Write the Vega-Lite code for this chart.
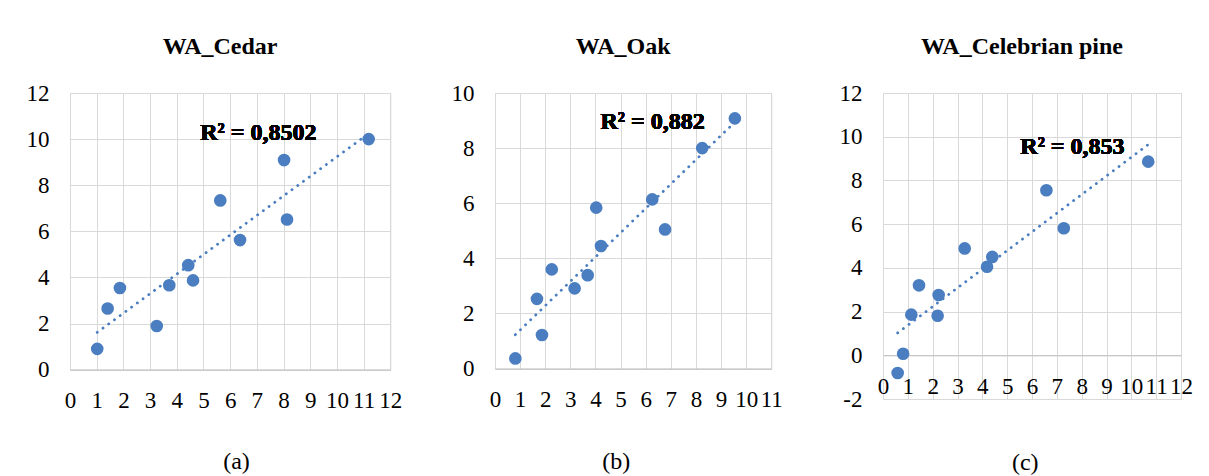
{
  "$schema": "https://vega.github.io/schema/vega-lite/v6.json",
  "background": "white",
  "padding": {"left": 25, "top": 34, "right": 5, "bottom": 5},
  "datasets": {
    "cedar": [
      {"x": 1.02, "y": 0.90}, {"x": 1.41, "y": 2.65}, {"x": 1.87, "y": 3.54}, {"x": 3.25, "y": 1.89},
      {"x": 3.72, "y": 3.66}, {"x": 4.43, "y": 4.53}, {"x": 4.61, "y": 3.87}, {"x": 5.63, "y": 7.34},
      {"x": 6.37, "y": 5.62}, {"x": 8.02, "y": 9.09}, {"x": 8.13, "y": 6.51}, {"x": 11.19, "y": 10.0}
    ],
    "oak": [
      {"x": 0.81, "y": 0.37}, {"x": 1.67, "y": 2.53}, {"x": 1.87, "y": 1.22}, {"x": 2.26, "y": 3.60},
      {"x": 3.17, "y": 2.91}, {"x": 3.69, "y": 3.39}, {"x": 4.03, "y": 5.84}, {"x": 4.22, "y": 4.45},
      {"x": 6.26, "y": 6.14}, {"x": 6.77, "y": 5.05}, {"x": 8.25, "y": 8.00}, {"x": 9.55, "y": 9.08}
    ],
    "pine": [
      {"x": 0.59, "y": -0.81}, {"x": 0.81, "y": 0.07}, {"x": 1.14, "y": 1.86}, {"x": 1.45, "y": 3.20},
      {"x": 2.20, "y": 1.81}, {"x": 2.24, "y": 2.76}, {"x": 3.29, "y": 4.89}, {"x": 4.19, "y": 4.05},
      {"x": 4.40, "y": 4.50}, {"x": 6.58, "y": 7.55}, {"x": 7.28, "y": 5.81}, {"x": 10.68, "y": 8.86}
    ]
  },
  "bounds": "flush",
  "spacing": 0,
  "hconcat": [
    {
      "width": 320.3,
      "height": 276.6,
      "title": {"text": "WA_Cedar"},
      "data": {"name": "cedar"},
      "layer": [
        {
          "mark": {"type": "circle", "size": 160, "color": "#4A7EC0", "opacity": 1},
          "encoding": {
            "x": {"field": "x", "type": "quantitative", "scale": {"domain": [0, 12], "nice": false, "zero": false},
                  "axis": {"values": [0,1,2,3,4,5,6,7,8,9,10,11,12], "title": "(a)", "titleX": 166, "titleY": 98.7, "titleAlign": "center", "titleBaseline": "alphabetic"}},
            "y": {"field": "y", "type": "quantitative", "scale": {"domain": [0, 12], "nice": false, "zero": false},
                  "axis": {"values": [0,2,4,6,8,10,12], "title": null}}
          }
        },
        {
          "transform": [{"regression": "y", "on": "x"}],
          "mark": {"type": "line", "color": "#4A7EC0", "strokeWidth": 2.8, "strokeCap": "round", "strokeDash": [0.1, 7]},
          "encoding": {
            "x": {"field": "x", "type": "quantitative",
                  "axis": {"values": [0,1,2,3,4,5,6,7,8,9,10,11,12], "title": "(a)", "titleX": 166, "titleY": 98.7, "titleAlign": "center", "titleBaseline": "alphabetic"}},
            "y": {"field": "y", "type": "quantitative",
                  "axis": {"values": [0,2,4,6,8,10,12], "title": null}}
          }
        },
        {
          "mark": {"type": "text", "align": "left", "baseline": "alphabetic", "font": "Liberation Serif", "fontSize": 24, "fontWeight": "bold", "color": "#000"},
          "encoding": {
            "x": {"datum": 4.88, "type": "quantitative",
                  "axis": {"values": [0,1,2,3,4,5,6,7,8,9,10,11,12], "title": "(a)", "titleX": 166, "titleY": 98.7, "titleAlign": "center", "titleBaseline": "alphabetic"}},
            "y": {"datum": 9.97, "type": "quantitative",
                  "axis": {"values": [0,2,4,6,8,10,12], "title": null}},
            "text": {"value": "R² = 0,8502"}
          }
        }
      ]
    },
    {
      "width": 103.4,
      "height": 1,
      "view": {"stroke": null},
      "data": {"values": []},
      "mark": {"type": "point", "opacity": 0},
      "encoding": {}
    },
    {
      "width": 276.3,
      "height": 275.6,
      "title": {"text": "WA_Oak"},
      "data": {"name": "oak"},
      "layer": [
        {
          "mark": {"type": "circle", "size": 160, "color": "#4A7EC0", "opacity": 1},
          "encoding": {
            "x": {"field": "x", "type": "quantitative", "scale": {"domain": [0, 11], "nice": false, "zero": false},
                  "axis": {"values": [0,1,2,3,4,5,6,7,8,9,10,11], "title": "(b)", "titleX": 120.8, "titleY": 100, "titleAlign": "center", "titleBaseline": "alphabetic"}},
            "y": {"field": "y", "type": "quantitative", "scale": {"domain": [0, 10], "nice": false, "zero": false},
                  "axis": {"values": [0,2,4,6,8,10], "title": null}}
          }
        },
        {
          "transform": [{"regression": "y", "on": "x"}],
          "mark": {"type": "line", "color": "#4A7EC0", "strokeWidth": 2.8, "strokeCap": "round", "strokeDash": [0.1, 7]},
          "encoding": {
            "x": {"field": "x", "type": "quantitative",
                  "axis": {"values": [0,1,2,3,4,5,6,7,8,9,10,11], "title": "(b)", "titleX": 120.8, "titleY": 100, "titleAlign": "center", "titleBaseline": "alphabetic"}},
            "y": {"field": "y", "type": "quantitative",
                  "axis": {"values": [0,2,4,6,8,10], "title": null}}
          }
        },
        {
          "mark": {"type": "text", "align": "left", "baseline": "alphabetic", "font": "Liberation Serif", "fontSize": 24, "fontWeight": "bold", "color": "#000"},
          "encoding": {
            "x": {"datum": 4.2, "type": "quantitative",
                  "axis": {"values": [0,1,2,3,4,5,6,7,8,9,10,11], "title": "(b)", "titleX": 120.8, "titleY": 100, "titleAlign": "center", "titleBaseline": "alphabetic"}},
            "y": {"datum": 8.69, "type": "quantitative",
                  "axis": {"values": [0,2,4,6,8,10], "title": null}},
            "text": {"value": "R² = 0,882"}
          }
        }
      ]
    },
    {
      "width": 110.3,
      "height": 1,
      "view": {"stroke": null},
      "data": {"values": []},
      "mark": {"type": "point", "opacity": 0},
      "encoding": {}
    },
    {
      "width": 298,
      "height": 306,
      "title": {"text": "WA_Celebrian pine"},
      "data": {"name": "pine"},
      "layer": [
        {
          "mark": {"type": "circle", "size": 160, "color": "#4A7EC0", "opacity": 1},
          "encoding": {
            "x": {"field": "x", "type": "quantitative", "scale": {"domain": [0, 12], "nice": false, "zero": false},
                  "axis": {"values": [0,1,2,3,4,5,6,7,8,9,10,11,12], "offset": -43.7, "title": "(c)", "titleX": 141.7, "titleY": 113.7, "titleAlign": "center", "titleBaseline": "alphabetic"}},
            "y": {"field": "y", "type": "quantitative", "scale": {"domain": [-2, 12], "nice": false, "zero": false},
                  "axis": {"values": [-2,0,2,4,6,8,10,12], "title": null, "labelExpr": "'' + datum.value"}}
          }
        },
        {
          "transform": [{"regression": "y", "on": "x"}],
          "mark": {"type": "line", "color": "#4A7EC0", "strokeWidth": 2.8, "strokeCap": "round", "strokeDash": [0.1, 7]},
          "encoding": {
            "x": {"field": "x", "type": "quantitative",
                  "axis": {"values": [0,1,2,3,4,5,6,7,8,9,10,11,12], "offset": -43.7, "title": "(c)", "titleX": 141.7, "titleY": 113.7, "titleAlign": "center", "titleBaseline": "alphabetic"}},
            "y": {"field": "y", "type": "quantitative",
                  "axis": {"values": [-2,0,2,4,6,8,10,12], "title": null, "labelExpr": "'' + datum.value"}}
          }
        },
        {
          "mark": {"type": "text", "align": "left", "baseline": "alphabetic", "font": "Liberation Serif", "fontSize": 24, "fontWeight": "bold", "color": "#000"},
          "encoding": {
            "x": {"datum": 5.53, "type": "quantitative",
                  "axis": {"values": [0,1,2,3,4,5,6,7,8,9,10,11,12], "offset": -43.7, "title": "(c)", "titleX": 141.7, "titleY": 113.7, "titleAlign": "center", "titleBaseline": "alphabetic"}},
            "y": {"datum": 9.22, "type": "quantitative",
                  "axis": {"values": [-2,0,2,4,6,8,10,12], "title": null, "labelExpr": "'' + datum.value"}},
            "text": {"value": "R² = 0,853"}
          }
        }
      ]
    }
  ],
  "config": {
    "font": "Liberation Serif",
    "view": {"stroke": "#d9d9d9", "strokeWidth": 1},
    "style": {
      "guide-label": {"font": "Liberation Serif", "fontSize": 23, "fill": "#000"},
      "guide-title": {"font": "Liberation Serif", "fontSize": 24, "fill": "#000"},
      "group-title": {"font": "Liberation Serif", "fontSize": 24}
    },
    "axis": {
      "grid": true,
      "gridColor": "#d9d9d9",
      "gridWidth": 1,
      "domainColor": "#bfbfbf",
      "ticks": false,
      "tickSize": 0,
      "labelFont": "Liberation Serif",
      "labelFontSize": 23,
      "labelColor": "#000",
      "labelOverlap": false,
      "labelFlush": false,
      "titleFont": "Liberation Serif",
      "titleFontSize": 24,
      "titleFontWeight": "normal",
      "titleColor": "#000"
    },
    "axisY": {"domain": false, "labelPadding": 21},
    "axisX": {"labelPadding": 20},
    "title": {
      "font": "Liberation Serif",
      "fontSize": 24,
      "fontWeight": "bold",
      "color": "#000",
      "frame": "group",
      "anchor": "middle",
      "baseline": "alphabetic",
      "offset": 22.9,
      "dx": -10
    }
  }
}
